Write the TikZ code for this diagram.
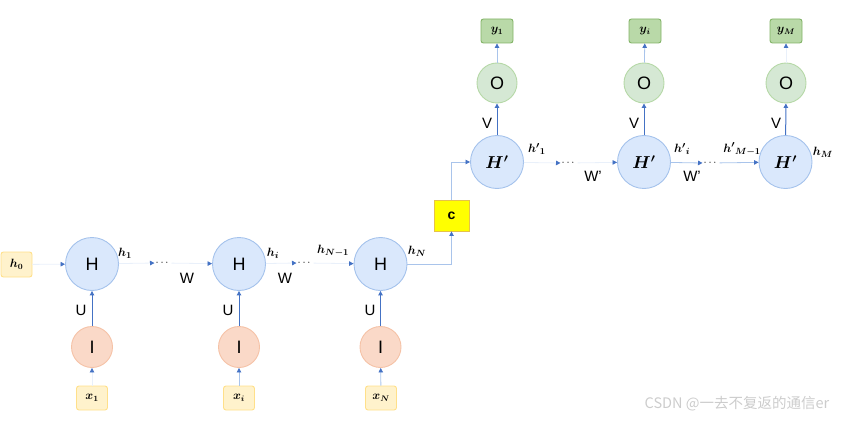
\documentclass[tikz,border=0pt]{standalone}
\usepackage{amsmath,bm}
\usepackage[no-math]{fontspec}
\setmainfont{Liberation Sans}
\newfontfamily\cjkwm{Noto Sans CJK SC}
\usetikzlibrary{arrows.meta}
\definecolor{arrowblue}{HTML}{4472C4}
\definecolor{faintln}{HTML}{E9F0FA}
\definecolor{lightln}{HTML}{A9C4EB}
\definecolor{hfill}{HTML}{DAE8FC}
\definecolor{hdraw}{HTML}{A4C2EC}
\definecolor{ifill}{HTML}{FAD9C8}
\definecolor{idraw}{HTML}{F5C2A6}
\definecolor{xfill}{HTML}{FFF2CC}
\definecolor{xdraw}{HTML}{FFE08A}
\definecolor{ofill}{HTML}{D5E8D4}
\definecolor{odraw}{HTML}{B5D8A6}
\definecolor{yfill}{HTML}{B9D9A8}
\definecolor{ydraw}{HTML}{82B366}
\definecolor{cfill}{HTML}{FFFF00}
\definecolor{cdraw}{HTML}{E6C24A}
\tikzset{
  hnode/.style={circle,draw=hdraw,fill=hfill,line width=0.9pt,minimum size=53pt,inner sep=0pt,font=\fontsize{18}{18}\selectfont},
  inode/.style={circle,draw=idraw,fill=ifill,line width=0.9pt,minimum size=41pt,inner sep=0pt,font=\fontsize{18}{18}\selectfont},
  onode/.style={circle,draw=odraw,fill=ofill,line width=0.9pt,minimum size=40pt,inner sep=0pt,font=\fontsize{18}{18}\selectfont},
  xbox/.style={rectangle,rounded corners=2.5pt,draw=xdraw,fill=xfill,line width=0.9pt,minimum width=31pt,minimum height=24pt,inner sep=0pt,font=\fontsize{12}{12}\selectfont},
  ybox/.style={rectangle,rounded corners=2.5pt,draw=ydraw,fill=yfill,line width=0.9pt,minimum width=32pt,minimum height=24pt,inner sep=0pt,font=\fontsize{12}{12}\selectfont},
  cbox/.style={rectangle,draw=cdraw,fill=cfill,line width=0.9pt,minimum width=35pt,minimum height=31pt,inner sep=0pt,font=\fontsize{14}{14}\selectfont\bfseries},
  wlbl/.style={font=\fontsize{15}{15}\selectfont,inner sep=0pt},
  hlbl/.style={font=\fontsize{13}{13}\selectfont,inner sep=0pt},
  dots/.style={font=\fontsize{11}{11}\selectfont,inner sep=1pt},
  tipb/.style={-{Triangle[length=4.5pt,width=4.5pt,color=arrowblue]}},
  solidarr/.style={draw=arrowblue,line width=1pt,tipb},
  faintarr/.style={draw=faintln,line width=0.8pt,tipb},
  lightarr/.style={draw=lightln,line width=0.8pt,tipb},
}
\begin{document}
\begin{tikzpicture}[x=1pt,y=-1pt]
\useasboundingbox (0,0) rectangle (842,422);
% encoder
\node[xbox,minimum width=31pt,minimum height=25pt] (h0) at (16.5,264.5) {$\bm{h_0}$};
\node[hnode] (H1) at (92,264) {H};
\node[hnode] (H2) at (239,264) {H};
\node[hnode] (H3) at (380.5,264) {H};
\node[inode] (I1) at (92,347) {I};
\node[inode] (I2) at (239,347) {I};
\node[inode] (I3) at (380.5,347) {I};
\node[xbox] (x1) at (92,398) {$\bm{x_1}$};
\node[xbox] (x2) at (239,398) {$\bm{x_i}$};
\node[xbox] (x3) at (381,398) {$\bm{x_N}$};
\node[dots] (d1) at (163,263) {$\cdots$};
\node[dots] (d2) at (305,263) {$\cdots$};
\coordinate (d1w) at (d1.west);
\coordinate (d2w) at (d2.west);
\draw[faintarr] (h0) -- (H1);
\draw[faintarr] (H1) -- (d1w);
\draw[faintarr] (d1) -- (H2);
\draw[faintarr] (H2) -- (d2w);
\draw[faintarr] (d2) -- (H3);
\draw[faintarr] (x1) -- (I1);
\draw[lightarr] (x2) -- (I2);
\draw[lightarr] (x3) -- (I3);
\draw[solidarr] (I1) -- (H1);
\draw[solidarr] (I2) -- (H2);
\draw[solidarr] (I3) -- (H3);
\node[wlbl] (U1) at (81,310) {U};
\node[wlbl] (U2) at (228,310) {U};
\node[wlbl] (U3) at (370,310) {U};
\node[wlbl] (W1) at (187,278) {W};
\node[wlbl] (W2) at (285,278) {W};
\node[hlbl] (lh1) at (125,253) {$\bm{h_1}$};
\node[hlbl] (lh2) at (273,253) {$\bm{h_i}$};
\node[hlbl] (lh3) at (333,251) {$\bm{h_{N-1}}$};
\node[hlbl] (lh4) at (417,251) {$\bm{h_N}$};
% context
\node[cbox] (c) at (451.5,215.5) {c};
% decoder
\node[hnode] (G1) at (497,162) {$\bm{H'}$};
\node[hnode] (G2) at (644,162) {$\bm{H'}$};
\node[hnode] (G3) at (785.5,162) {$\bm{H'}$};
\node[onode] (O1) at (497,83) {O};
\node[onode] (O2) at (644,83) {O};
\node[onode] (O3) at (786,83) {O};
\node[ybox] (y1) at (497,31) {$\bm{y_1}$};
\node[ybox] (y2) at (645,31) {$\bm{y_i}$};
\node[ybox] (y3) at (786,31) {$\bm{y_M}$};
\node[dots] (e1) at (569,163) {$\cdots$};
\node[dots] (e2) at (711,163) {$\cdots$};
\coordinate (e1w) at (e1.west);
\coordinate (e2w) at (e2.west);
\draw[lightarr] (H3.east) -| (c.south);
\draw[lightarr] (c.north) |- (G1.west);
\draw[faintarr] (G1) -- (e1w);
\draw[faintarr] (e1) -- (G2);
\draw[lightarr] (G2) -- (e2w);
\draw[lightarr] (e2) -- (G3);
\draw[solidarr] (G1) -- (O1);
\draw[solidarr] (G2) -- (O2);
\draw[solidarr] (G3) -- (O3);
\draw[lightarr] (O1) -- (y1);
\draw[lightarr] (O2) -- (y2);
\draw[faintarr] (O3) -- (y3);
\node[wlbl] (V1) at (487,123) {V};
\node[wlbl] (V2) at (634,123) {V};
\node[wlbl] (V3) at (776,123) {V};
\node[wlbl] (W3) at (593,176) {W'};
\node[wlbl] (W4) at (692,176) {W'};
\node[hlbl] (lg1) at (537,149) {$\bm{{h'}_1}$};
\node[hlbl] (lg2) at (682,149) {$\bm{{h'}_i}$};
\node[hlbl] (lg3) at (742,149) {$\bm{{h'}_{M-1}}$};
\node[hlbl] (lg4) at (823,152) {$\bm{h_M}$};
% watermark
\node[font=\cjkwm\fontsize{14.5}{14.5}\selectfont,text=black!20,inner sep=0pt] (wm) at (737,404) {CSDN @一去不复返的通信er};
\end{tikzpicture}
\end{document}
